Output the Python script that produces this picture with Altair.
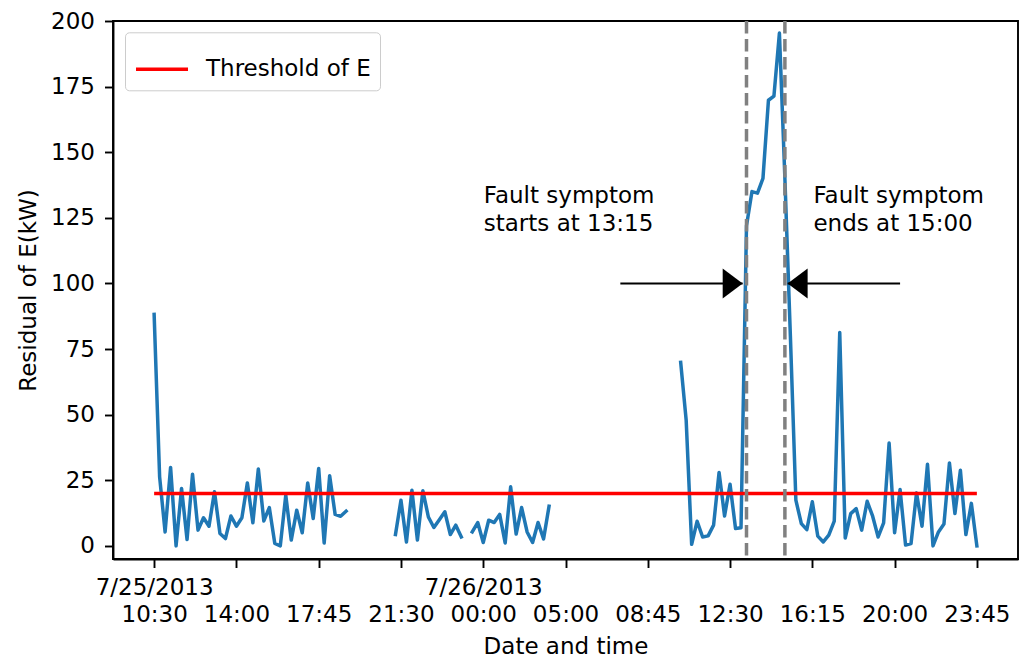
import altair as alt
import pandas as pd

# ---------------- data ----------------
seg_a_start = 0
seg_a = [88.2, 26.3, 5.3, 29.9, 0.0, 21.9, 2.4, 27.3, 6.0, 10.7, 7.5, 20.6, 4.7, 2.8,
         11.4, 7.5, 10.7, 24.0, 8.8, 29.3, 9.5, 14.6, 0.9, 0.0, 19.3, 2.2, 13.6, 5.0,
         24.0, 10.4, 29.5, 1.1, 26.7, 12.0, 11.3, 13.2]
seg_b_start = 44
seg_b = [4.3, 17.4, 1.5, 21.2, 2.2, 21.0, 11.0, 7.0, 10.0, 13.0, 4.3, 7.9, 3.4]
seg_c_start = 58
seg_c = [5.3, 8.9, 1.3, 9.8, 8.9, 12.0, 1.1, 22.5, 4.5, 14.6, 5.3, 1.3, 8.9, 2.6, 15.1]
seg_d_start = 96
seg_d = [69.9, 47.9, 0.6, 9.4, 3.4, 3.8, 7.9, 28.0, 11.4, 23.5, 6.6, 6.9, 122.0, 135.0,
         134.4, 140.0, 169.8, 171.4, 195.4, 140.0, 80.0, 17.4, 8.5, 6.2, 16.8, 3.7, 1.5,
         4.1, 9.4, 81.3, 3.0, 12.3, 14.2, 6.0, 17.0, 11.3, 3.4, 8.8, 39.2, 5.0, 21.5, 0.3,
         0.9, 20.2, 7.5, 31.1, 0.0, 5.3, 8.3, 31.6, 12.3, 28.8, 4.3, 16.2, 0.0]

threshold_label = "Threshold of E"
threshold_value = 20
threshold_span = [0, 150]

fault_lines = [108, 115]

arrow_tail = [85, 136]
arrow_tip = [107.3, 115.5]
arrow_level = [100, 100]
arrow_shape = ["M-2,-1.5L0,0L-2,1.5Z", "M2,-1.5L0,0L2,1.5Z"]

ann_x = [60.1, 120.2]
ann_y = [130.5, 130.5]
ann_text = [["Fault symptom", "starts at 13:15"], ["Fault symptom", "ends at 15:00"]]

tick_values = [0, 15, 30, 45, 60, 75, 90, 105, 120, 135, 150]
tick_line1 = ["7/25/2013", "", "", "", "7/26/2013", "", "", "", "", "", ""]
tick_line2 = ["10:30", "14:00", "17:45", "21:30", "00:00", "05:00", "08:45",
              "12:30", "16:15", "20:00", "23:45"]
y_ticks = [0, 25, 50, 75, 100, 125, 150, 175, 200]

# ---------------- tables ----------------
rows = []
for k, (s, vals) in enumerate([(seg_a_start, seg_a), (seg_b_start, seg_b),
                               (seg_c_start, seg_c), (seg_d_start, seg_d)]):
    for j, v in enumerate(vals):
        rows.append({"idx": s + j, "value": v, "seg": k})
df = pd.DataFrame(rows)

thr_df = pd.DataFrame({"idx": [threshold_span[0]], "idx2": [threshold_span[1]],
                       "value": [threshold_value], "label": [threshold_label]})
fault_df = pd.DataFrame({"idx": fault_lines})
arrow_df = pd.DataFrame({"idx": arrow_tail, "idx2": arrow_tip, "value": arrow_level,
                         "shape": arrow_shape})
ann_df = pd.DataFrame({"idx": ann_x, "value": ann_y, "text": ann_text})

# label expression from the tick lists
expr = "''"
for v, a, b in reversed(list(zip(tick_values, tick_line1, tick_line2))):
    expr = f"datum.value == {v} ? ['{a}', '{b}'] : ({expr})"

FS = 23
x_scale = alt.Scale(domain=[-7.5, 157.5], nice=False, zero=False)
y_scale = alt.Scale(domain=[-5, 200], nice=False, zero=False)

x_axis = alt.Axis(values=tick_values, labelExpr=expr, labelFontSize=FS,
                  labelBaseline="alphabetic", labelPadding=27, labelLineHeight=27.4,
                  labelFlush=False, labelOverlap=False, labelBound=False,
                  tickSize=8.5, tickWidth=1.9, tickColor="black",
                  domainColor="black", domainWidth=1.9, grid=False,
                  labelColor="black", title="Date and time", titleFontSize=FS,
                  titleFontWeight="normal", titleColor="black",
                  titleX=452.5, titleY=94, titleBaseline="alphabetic",
                  titleAlign="center", titleAnchor="middle")
y_axis = alt.Axis(values=y_ticks, labelFontSize=FS, labelPadding=10,
                  tickSize=8.5, tickWidth=1.9, tickColor="black",
                  domainColor="black", domainWidth=1.9, grid=False,
                  labelColor="black", labelFlush=False, labelOverlap=False,
                  title="Residual of E(kW)", titleFontSize=FS,
                  titleFontWeight="normal", titleColor="black",
                  titleX=-77.8, titleY=269, titleAngle=270,
                  titleBaseline="alphabetic", titleAlign="center")

X = alt.X("idx:Q", scale=x_scale, axis=x_axis)
Y = alt.Y("value:Q", scale=y_scale, axis=y_axis)

line = alt.Chart(df).mark_line(color="#1f77b4", strokeWidth=3.5,
                               strokeJoin="round", strokeCap="square").encode(
    x=X, y=Y, detail="seg:N", order="idx:Q")

thr = alt.Chart(thr_df).mark_rule(strokeWidth=3.5).encode(
    x=X, x2="idx2:Q", y=Y,
    color=alt.Color("label:N",
                    scale=alt.Scale(domain=[threshold_label], range=["#ff0000"]),
                    legend=alt.Legend(orient="none", legendX=12, legendY=11.3,
                                      title=None, symbolType="stroke",
                                      symbolSize=2704, symbolStrokeWidth=3.5,
                                      labelFontSize=FS, labelOffset=16,
                                      labelLimit=600,
                                      labelColor="black", padding=9,
                                      strokeColor="#cccccc", fillColor="white",
                                      cornerRadius=4)))

fault = alt.Chart(fault_df).mark_rule(color="#808080", strokeWidth=3.5,
                                      strokeDash=[12.5, 5.5]).encode(x=X)

arrow_line = alt.Chart(arrow_df).mark_rule(color="black", strokeWidth=2).encode(
    x=X, x2="idx2:Q", y=Y)
arrow_head = alt.Chart(arrow_df).mark_point(filled=True, color="black", opacity=1,
                                            size=400, strokeWidth=0).encode(
    x=alt.X("idx2:Q", scale=x_scale, axis=x_axis), y=Y,
    shape=alt.Shape("shape:N", scale=None))

ann = alt.Chart(ann_df).mark_text(align="left", baseline="alphabetic",
                                  fontSize=FS, lineHeight=27.4,
                                  color="black").encode(x=X, y=Y, text="text")

chart = alt.layer(line, thr, fault, arrow_line, arrow_head, ann).properties(
    width=905, height=538,
    autosize=alt.AutoSizeParams(type="none"),
    padding={"left": 113, "top": 21, "right": 4, "bottom": 103},
).configure(font="DejaVu Sans").configure_view(
    stroke="black", strokeWidth=1.9)

chart.save("out.html", embed_options={"renderer": "svg", "actions": False})
